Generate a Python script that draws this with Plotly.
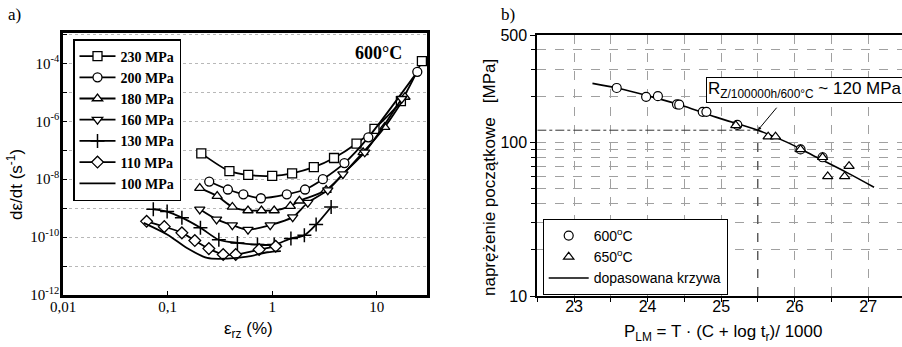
import math
import plotly.graph_objects as go

# ---------------- Panel a data: creep rate vs strain at 600 C ----------------
strain_230 = [0.21, 0.39, 0.59, 1.0, 1.55, 2.5, 3.9, 6.4, 9.5, 17.0, 27.0]
rate_230 = [7.8e-8, 1.9e-8, 1.4e-8, 1.3e-8, 1.6e-8, 2.6e-8, 5.4e-8, 1.7e-7, 5.5e-7, 5.0e-6, 1.2e-4]

strain_200 = [0.25, 0.377, 0.53, 0.78, 1.38, 2.06, 3.05, 4.9, 8.3, 24.4]
rate_200 = [8.3e-9, 4.4e-9, 3.0e-9, 2.2e-9, 3.0e-9, 4.4e-9, 1.0e-8, 3.6e-8, 2.8e-7, 5.1e-5]

strain_180 = [0.203, 0.298, 0.416, 0.587, 0.789, 1.045, 1.49, 1.82, 3.28, 7.4, 11.9, 18.6]
rate_180 = [4.9e-9, 2.6e-9, 1.1e-9, 8.3e-10, 8.3e-10, 8.3e-10, 1.17e-9, 1.8e-9, 4.2e-9, 8.5e-8, 6.3e-7, 6.9e-6]

strain_160 = [0.203, 0.294, 0.416, 0.587, 0.957, 1.57, 2.19, 3.40, 4.74, 7.67, 17.3]
rate_160 = [9.1e-10, 4.1e-10, 2.6e-10, 1.8e-10, 2.6e-10, 4.9e-10, 1.55e-9, 4.2e-9, 1.5e-8, 8.5e-8, 6.0e-6]

strain_130 = [0.073, 0.099, 0.137, 0.206, 0.309, 0.465, 0.723, 1.045, 1.51, 2.03, 2.63, 3.66]
rate_130 = [9.1e-10, 7.6e-10, 4.7e-10, 2.1e-10, 8.1e-11, 6.3e-11, 5.5e-11, 5.5e-11, 8.9e-11, 1.15e-10, 2.7e-10, 1.1e-9]

strain_110 = [0.063, 0.093, 0.137, 0.182, 0.248, 0.340, 0.448, 0.750, 1.08]
rate_110 = [3.5e-10, 2.3e-10, 1.4e-10, 7.6e-11, 4.0e-11, 2.5e-11, 2.5e-11, 3.7e-11, 4.8e-11]

strain_100 = [0.059, 0.099, 0.153, 0.239, 0.372, 0.579, 0.90, 1.21]
rate_100 = [3.1e-10, 1.23e-10, 4.2e-11, 1.9e-11, 1.8e-11, 2.1e-11, 3.0e-11, 3.3e-11]

labels_a = ["230 MPa", "200 MPa", "180 MPa", "160 MPa", "130 MPa", "110 MPa", "100 MPa"]
x_ticks_a = [0.01, 0.1, 1, 10]
x_ticktext_a = ["0,01", "0,1", "1", "10"]
y_ticks_a = [1e-12, 1e-11, 1e-10, 1e-9, 1e-8, 1e-7, 1e-6, 1e-5, 1e-4, 1e-3]
y_ticktext_a = ["10<sup>-12</sup>", "", "10<sup>-10</sup>", "", "10<sup>-8</sup>", "",
                "10<sup>-6</sup>", "", "10<sup>-4</sup>", ""]

# ---------------- Panel b data: Larson-Miller ----------------
P_600 = [23.58, 23.98, 24.14, 24.40, 24.43, 24.75, 24.80, 25.22, 26.08, 26.38]
S_600 = [226, 198, 200, 177, 176, 158, 158, 130, 90, 80]
P_650 = [25.20, 25.64, 25.74, 26.08, 26.38, 26.45, 26.68, 26.74]
S_650 = [129, 109, 109, 90, 80, 60, 60, 70]
P_fit = [23.25, 23.6, 24.02, 24.5, 24.93, 25.5, 25.9, 26.3, 26.7, 27.08]
S_fit = [242, 225, 200, 172, 146, 120, 100, 80, 64, 51]
P_ref = 25.5
S_ref = 120
x_ticks_b = [23, 24, 25, 26, 27]
y_ticks_b = [10, 100, 500]

SERIF = "Liberation Serif, Times New Roman, serif"
SANS = "Liberation Sans, Arial, sans-serif"
W, H = 902, 347


def px(x):
    return x / W


def py(y):
    return (H - y) / H


fig = go.Figure()

# panel a traces
series_a = [
    (labels_a[0], strain_230, rate_230, "square"),
    (labels_a[1], strain_200, rate_200, "circle"),
    (labels_a[2], strain_180, rate_180, "triangle-up"),
    (labels_a[3], strain_160, rate_160, "triangle-down"),
    (labels_a[4], strain_130, rate_130, "cross-thin"),
    (labels_a[5], strain_110, rate_110, "diamond"),
]
for name, xs, ys, sym in series_a:
    if sym == "cross-thin":
        mk = dict(symbol=sym, size=10, color="black", line=dict(color="black", width=1.5))
    else:
        mk = dict(symbol=sym, size=9, color="white", line=dict(color="black", width=1.3))
    fig.add_trace(go.Scatter(x=xs, y=ys, name=name, mode="lines+markers",
                             line=dict(color="black", width=1.8, shape="spline", smoothing=0.8),
                             marker=mk, xaxis="x", yaxis="y", legend="legend"))
fig.add_trace(go.Scatter(x=strain_100, y=rate_100, name=labels_a[6], mode="lines",
                         line=dict(color="black", width=1.8, shape="spline", smoothing=0.8),
                         xaxis="x", yaxis="y", legend="legend"))

# panel b traces
fig.add_trace(go.Scatter(x=[22.5, P_ref], y=[S_ref, S_ref], mode="lines",
                         line=dict(color="#333", width=1, dash="dashdot"), showlegend=False,
                         xaxis="x2", yaxis="y2", hoverinfo="skip"))
fig.add_trace(go.Scatter(x=[P_ref, P_ref], y=[10, S_ref], mode="lines",
                         line=dict(color="#333", width=1, dash="dash"), showlegend=False,
                         xaxis="x2", yaxis="y2", hoverinfo="skip"))
fig.add_trace(go.Scatter(x=P_fit, y=S_fit, name="dopasowana krzywa", mode="lines",
                         line=dict(color="black", width=1.6, shape="spline"),
                         xaxis="x2", yaxis="y2", legend="legend2", legendrank=3))
fig.add_trace(go.Scatter(x=P_600, y=S_600, name="600<sup>o</sup>C", mode="markers",
                         marker=dict(symbol="circle", size=9, color="white",
                                     line=dict(color="black", width=1.2)),
                         xaxis="x2", yaxis="y2", legend="legend2", legendrank=1))
fig.add_trace(go.Scatter(x=P_650, y=S_650, name="650<sup>o</sup>C", mode="markers",
                         marker=dict(symbol="triangle-up", size=9, color="white",
                                     line=dict(color="black", width=1.2)),
                         xaxis="x2", yaxis="y2", legend="legend2", legendrank=2))

grid_a = dict(showgrid=True, gridcolor="#b8b8b8", griddash="dot", gridwidth=1)


def note(text, x, y, size=17, family=SANS, angle=0, **kw):
    d = dict(text=text, x=px(x), y=py(y), xref="paper", yref="paper", showarrow=False,
             xanchor="center", yanchor="middle", textangle=angle,
             font=dict(family=family, size=size, color="black"))
    d.update(kw)
    return d


fig.update_layout(
    template="none",
    width=W, height=H, margin=dict(l=0, r=0, t=0, b=0, autoexpand=False),
    paper_bgcolor="white", plot_bgcolor="white",
    xaxis=dict(type="log", range=[-2, 1.48], domain=[px(63), px(427)], anchor="y",
               automargin=False, ticklabelstandoff=-4,
               tickvals=x_ticks_a, ticktext=x_ticktext_a, ticks="inside", ticklen=4,
               tickcolor="black", showline=True, linecolor="black", linewidth=2.5, mirror=True,
               tickfont=dict(family=SERIF, size=15, color="black"), showgrid=False, zeroline=False),
    yaxis=dict(type="log", range=[-12, -2.95], domain=[py(295), py(33)], anchor="x",
               automargin=False, ticklabelstandoff=-2,
               tickvals=y_ticks_a, ticktext=y_ticktext_a, ticks="inside", ticklen=4,
               tickcolor="black", showline=True, linecolor="black", linewidth=2.5, mirror=True,
               tickfont=dict(family=SERIF, size=15, color="black"), zeroline=False, **grid_a),
    xaxis2=dict(range=[22.5, 27.46], domain=[px(537.3), 1.0], anchor="y2",
                automargin=False, ticklabelstandoff=-9,
                tickvals=x_ticks_b, ticks="outside", ticklen=4, tickcolor="black",
                minor=dict(dtick=0.5, ticks="outside", ticklen=4, tickcolor="black",
                           showgrid=True, gridcolor="#a0a0a0", griddash="dash"),
                showline=True, linecolor="black", linewidth=2, mirror=True,
                showgrid=True, gridcolor="#a0a0a0", griddash="dash", gridwidth=1,
                tickfont=dict(family=SANS, size=16, color="black"), zeroline=False),
    yaxis2=dict(type="log", range=[1, math.log10(500)], domain=[py(296), py(35)], anchor="x2",
                automargin=False,
                tickvals=y_ticks_b, ticks="outside", ticklen=5, tickcolor="black",
                minor=dict(tickvals=[20, 30, 40, 50, 60, 70, 80, 90, 200, 300, 400],
                           ticks="outside", ticklen=4, tickcolor="black",
                           showgrid=True, gridcolor="#a0a0a0", griddash="dash"),
                showline=True, linecolor="black", linewidth=2,
                showgrid=True, gridcolor="#a0a0a0", griddash="dash", gridwidth=1,
                tickfont=dict(family=SANS, size=16, color="black"), zeroline=False),
    legend=dict(x=px(73), y=py(39), xanchor="left", yanchor="top",
                bgcolor="white", bordercolor="black", borderwidth=1.5,
                font=dict(family=SERIF, size=14, color="black", weight="bold"),
                itemwidth=36, tracegroupgap=0),
    legend2=dict(x=px(542.7), y=py(219), xanchor="left", yanchor="top",
                 bgcolor="white", bordercolor="black", borderwidth=1,
                 font=dict(family=SANS, size=14, color="black"),
                 itemwidth=40, traceorder="normal"),
    annotations=[
        note("a)", 14, 15, family=SERIF),
        note("b)", 508, 15, family=SERIF),
        note("<b>600°C</b>", 404, 53, size=18, family=SERIF, xanchor="right"),
        note("dε/dt (s<sup>-1</sup>)", 15, 185, angle=-90),
        note("ε<sub>rz</sub> (%)", 248, 330),
        note("naprężenie początkowe   [MPa]", 489, 178, angle=-90),
        note("P<sub>LM</sub> = T · (C + log t<sub>r</sub>)/ 1000", 723, 333),
        note("R<sub>Z/100000h/600°C</sub> ~ 120 MPa", 706, 90, xanchor="left",
             bgcolor="white", bordercolor="black", borderwidth=1, borderpad=1),
        dict(text="", x=P_ref, y=math.log10(S_ref), xref="x2", yref="y2", showarrow=True,
             ax=20, ay=-24, arrowhead=2, arrowsize=0.7, arrowwidth=1, arrowcolor="black"),
    ],
)

fig.write_html("out.html", config={"displayModeBar": False},
               post_script="document.body.style.margin='0';document.body.style.padding='0';")
